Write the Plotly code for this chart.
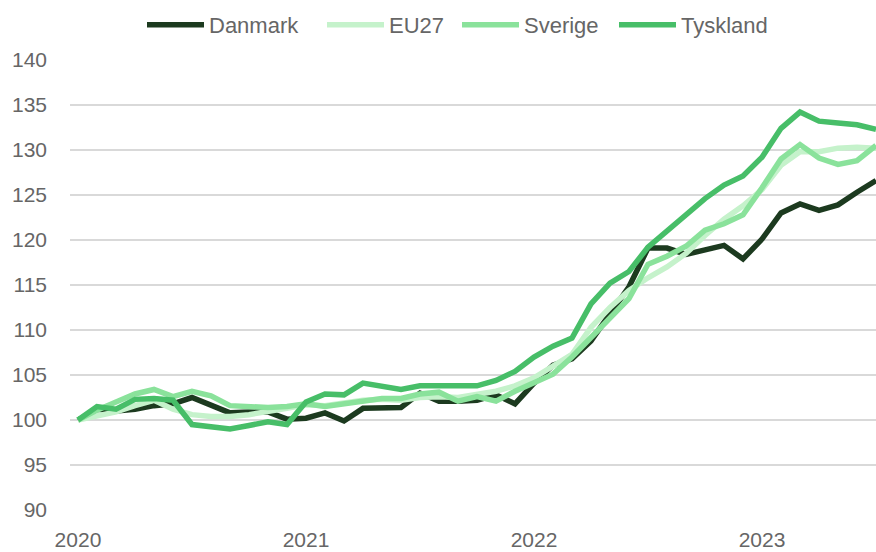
import plotly.graph_objects as go

months = list(range(43))  # Jan 2020 .. Jul 2023
year_ticks = [0, 12, 24, 36]
year_labels = ["2020", "2021", "2022", "2023"]

danmark = [100, 101.2, 101.0, 101.2, 101.6, 101.8, 102.5, 101.6, 100.8, 100.9, 100.9, 100.1,
           100.2, 100.8, 99.9, 101.3, 101.3, 101.4, 103.0, 102.1, 102.1, 102.2, 102.8, 101.8,
           104.1, 106.1, 106.8, 108.8, 111.8, 114.8, 119.1, 119.1, 118.4, 118.9, 119.4, 117.9,
           120.1, 123.0, 124.0, 123.3, 123.9, 125.3, 126.6]
eu27 = [100, 100.5, 100.9, 101.6, 102.2, 101.2, 100.6, 100.4, 100.4, 100.6, 100.9, 101.3,
        101.7, 101.6, 101.9, 102.2, 102.3, 102.2, 102.5, 102.6, 102.5, 102.9, 103.2, 103.8,
        104.7, 106.0, 107.3, 110.3, 112.5, 114.4, 115.8, 117.0, 118.5, 120.5, 122.3, 123.8,
        125.6, 128.3, 129.8, 129.8, 130.2, 130.3, 130.2]
sverige = [100, 101.1, 102.0, 102.9, 103.4, 102.6, 103.2, 102.7, 101.6, 101.5, 101.4, 101.5,
           101.8, 101.5, 101.8, 102.2, 102.4, 102.4, 102.9, 103.1, 102.1, 102.6, 102.1, 103.2,
           104.1, 105.1, 107.0, 109.2, 111.2, 113.5, 117.3, 118.2, 119.3, 121.1, 121.8, 122.8,
           125.8, 129.0, 130.6, 129.1, 128.4, 128.8, 130.5]
tyskland = [100, 101.5, 101.2, 102.3, 102.4, 102.2, 99.5, 99.2, 99.0, 99.4, 99.8, 99.5,
            102.0, 102.9, 102.8, 104.1, 103.8, 103.4, 103.8, 103.8, 103.8, 103.8, 104.4, 105.4,
            107.0, 108.2, 109.1, 112.9, 115.2, 116.5, 119.2, 121.0, 123.0, 124.6, 126.1, 127.1,
            129.2, 132.4, 134.2, 133.2, 133.0, 132.8, 132.3]

series = [
    ("Danmark", danmark, "#1c3a1f"),
    ("EU27", eu27, "#c5f2cb"),
    ("Sverige", sverige, "#8ae29b"),
    ("Tyskland", tyskland, "#47be68"),
]
legend_ids = ["legend", "legend2", "legend3", "legend4"]
legend_left_px = [142, 322, 457, 614]

fig = go.Figure()
for (name, vals, color), lid in zip(series, legend_ids):
    fig.add_trace(go.Scatter(x=months, y=vals, mode="lines", name=name, legend=lid,
                             line=dict(color=color, width=5.5)))

font_family = "Liberation Sans, Arial, sans-serif"
legend_common = dict(orientation="h", xanchor="left", xref="container",
                     y=0.955, yanchor="middle", yref="container",
                     font=dict(size=22, color="#666666"),
                     itemwidth=57, tracegroupgap=0, bgcolor="rgba(0,0,0,0)")
legends = {lid: dict(legend_common, x=px / 876) for lid, px in zip(legend_ids, legend_left_px)}

fig.update_layout(
    width=876, height=552,
    margin=dict(l=70, r=0, t=59, b=41, autoexpand=False),
    paper_bgcolor="white", plot_bgcolor="white",
    font=dict(family=font_family, size=21, color="#666666"),
    showlegend=True,
    **legends,
)
fig.update_xaxes(range=[-0.42, 42], tickvals=year_ticks, ticktext=year_labels,
                 showgrid=False, zeroline=False, showline=False, ticks="",
                 automargin=False,
                 ticklabelstandoff=14, tickfont=dict(size=21, color="#666666"))
fig.update_yaxes(range=[89.9, 140.1], tick0=90, dtick=5, showgrid=True,
                 gridcolor="#d9d9d9", gridwidth=2, zeroline=False, showline=False,
                 automargin=False,
                 ticks="", ticklabelstandoff=22, tickfont=dict(size=21, color="#666666"))

fig.write_html("out.html", config={"displayModeBar": False},
               post_script="document.body.style.margin='0';document.body.style.padding='0';")
